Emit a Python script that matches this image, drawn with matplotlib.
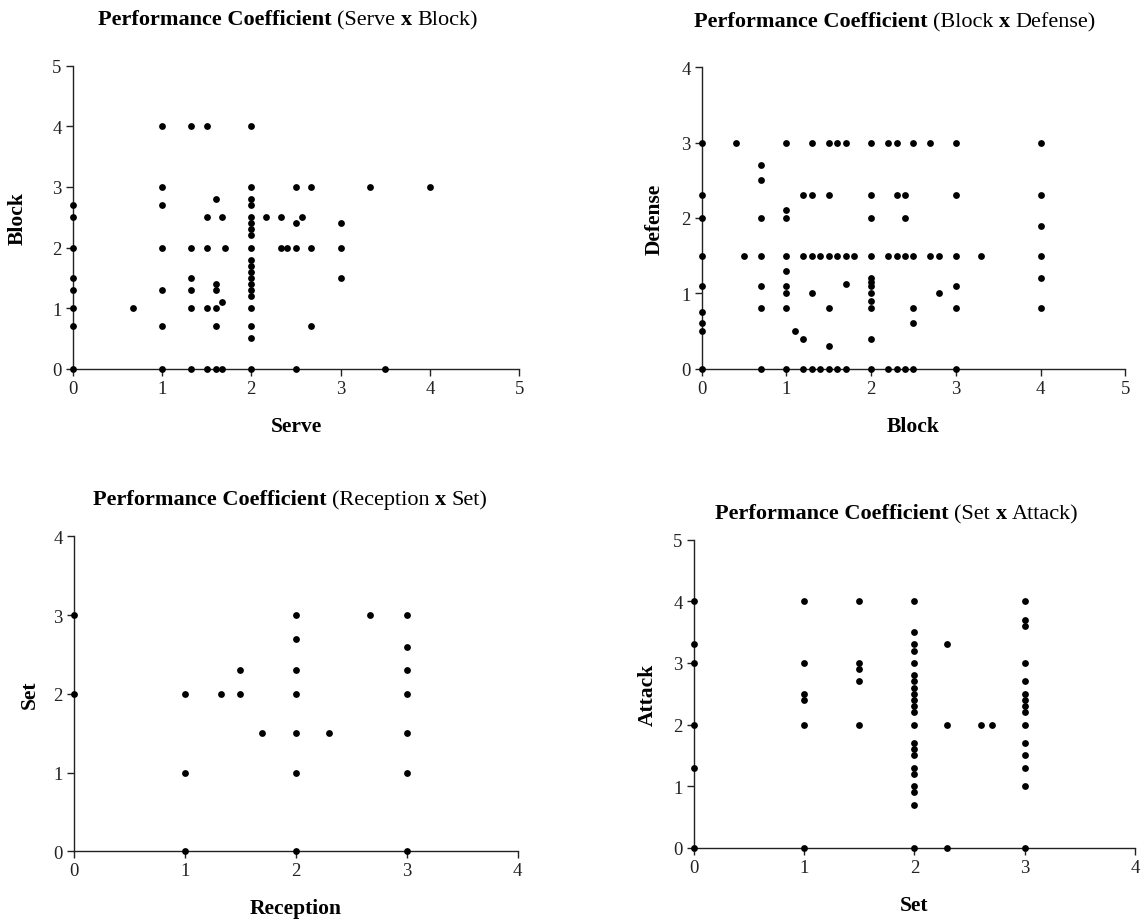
import matplotlib
matplotlib.use("Agg")
import matplotlib.pyplot as plt

plt.rcParams["font.family"] = "serif"
plt.rcParams["font.serif"] = ["Liberation Serif", "DejaVu Serif"]

W, H = 1141, 920

# --- Serve x Block ---
serve = [0, 0, 0, 0, 0, 0, 0, 0,
         0.67,
         1, 1, 1, 1, 1, 1, 1,
         1.33, 1.33, 1.33, 1.33, 1.33, 1.33,
         1.5, 1.5, 1.5, 1.5, 1.5,
         1.6, 1.6, 1.6, 1.6, 1.6, 1.6,
         1.67, 1.67, 1.67,
         1.71,
         2, 2, 2, 2, 2, 2, 2, 2, 2, 2, 2, 2, 2, 2, 2, 2, 2, 2, 2, 2,
         2.17,
         2.33, 2.33,
         2.4,
         2.5, 2.5, 2.5, 2.5,
         2.57,
         2.67, 2.67, 2.67,
         3, 3, 3,
         3.33, 3.5, 4]
block_serve = [2.7, 2.5, 2.0, 1.5, 1.3, 1.0, 0.7, 0,
               1.0,
               4, 3, 2.7, 2, 1.3, 0.7, 0,
               4, 2, 1.5, 1.3, 1, 0,
               4, 2.5, 2, 1, 0,
               2.8, 1.4, 1.3, 1, 0.7, 0,
               2.5, 1.1, 0,
               2.0,
               4, 3, 2.8, 2.7, 2.5, 2.4, 2.3, 2.2, 2, 1.8, 1.7, 1.6, 1.5, 1.4, 1.3, 1.2, 1, 0.7, 0.5, 0,
               2.5,
               2.5, 2,
               2,
               3, 2.4, 2, 0,
               2.5,
               3, 2, 0.7,
               2.4, 2, 1.5,
               3, 0, 3]

# --- Block x Defense ---
block = [0, 0, 0, 0, 0, 0, 0, 0, 0,
         0.4, 0.5,
         0.7, 0.7, 0.7, 0.7, 0.7, 0.7, 0.7,
         1, 1, 1, 1, 1, 1, 1, 1, 1,
         1.1,
         1.2, 1.2, 1.2, 1.2,
         1.3, 1.3, 1.3, 1.3, 1.3,
         1.4, 1.4,
         1.5, 1.5, 1.5, 1.5, 1.5, 1.5,
         1.6, 1.6, 1.6,
         1.7, 1.7, 1.7, 1.7,
         1.8,
         2, 2, 2, 2, 2, 2, 2, 2, 2, 2, 2, 2,
         2.2, 2.2, 2.2,
         2.3, 2.3, 2.3, 2.3,
         2.4, 2.4, 2.4, 2.4,
         2.5, 2.5, 2.5, 2.5, 2.5,
         2.7, 2.7,
         2.8, 2.8,
         3, 3, 3, 3, 3, 3,
         3.3,
         4, 4, 4, 4, 4, 4]
defense = [3, 2.3, 2, 1.5, 1.1, 0.75, 0.6, 0.5, 0,
           3, 1.5,
           2.7, 2.5, 2, 1.5, 1.1, 0.8, 0,
           3, 2.1, 2.0, 1.5, 1.3, 1.1, 1.0, 0.8, 0,
           0.5,
           2.3, 1.5, 0.4, 0,
           3, 2.3, 1.5, 1.0, 0,
           1.5, 0,
           3, 2.3, 1.5, 0.8, 0.3, 0,
           3, 1.5, 0,
           3, 1.5, 1.12, 0,
           1.5,
           3, 2.3, 2.0, 1.5, 1.2, 1.15, 1.1, 1.0, 0.9, 0.8, 0.4, 0,
           3, 1.5, 0,
           3, 2.3, 1.5, 0,
           2.3, 2.0, 1.5, 0,
           3, 1.5, 0.8, 0.6, 0,
           3, 1.5,
           1.5, 1.0,
           3, 2.3, 1.5, 1.1, 0.8, 0,
           1.5,
           3, 2.3, 1.9, 1.5, 1.2, 0.8]

# --- Reception x Set ---
reception = [0, 0,
             1, 1, 1,
             1.33,
             1.5, 1.5,
             1.7,
             2, 2, 2, 2, 2, 2, 2,
             2.3,
             2.67,
             3, 3, 3, 3, 3, 3, 3]
set_rec = [3, 2,
           2, 1, 0,
           2,
           2.3, 2,
           1.5,
           3, 2.7, 2.3, 2, 1.5, 1, 0,
           1.5,
           3,
           3, 2.6, 2.3, 2, 1.5, 1, 0]

# --- Set x Attack ---
set_att = [0, 0, 0, 0, 0, 0,
           1, 1, 1, 1, 1, 1,
           1.5, 1.5, 1.5, 1.5, 1.5,
           2, 2, 2, 2, 2, 2, 2, 2, 2, 2, 2, 2, 2, 2, 2, 2, 2, 2, 2, 2, 2, 2,
           2.3, 2.3, 2.3,
           2.6, 2.7,
           3, 3, 3, 3, 3, 3, 3, 3, 3, 3, 3, 3, 3, 3, 3]
attack = [4, 3.3, 3, 2, 1.3, 0,
          4, 3, 2.5, 2.4, 2, 0,
          4, 3, 2.9, 2.7, 2,
          4, 3.5, 3.3, 3.2, 3, 2.8, 2.7, 2.6, 2.5, 2.4, 2.3, 2.2, 2, 1.7, 1.6, 1.5, 1.3, 1.2, 1.0, 0.9, 0.7, 0,
          3.3, 2, 0,
          2, 2,
          4, 3.7, 3.6, 3, 2.7, 2.5, 2.4, 2.3, 2.2, 2, 1.7, 1.5, 1.3, 1, 0]


fig = plt.figure(figsize=(W / 100, H / 100), dpi=100)


def rect(x0, x1, ytop, ybot):
    return [x0 / W, 1 - ybot / H, (x1 - x0) / W, (ybot - ytop) / H]


def panel(box, x, y, xmax, ymax, xlabel, ylabel, ylab_x):
    ax = fig.add_axes(rect(*box))
    ax.scatter(x, y, s=24, c="black", linewidths=0, clip_on=False, zorder=3)
    ax.set_xlim(0, xmax)
    ax.set_ylim(0, ymax)
    ax.set_xticks(range(xmax + 1))
    ax.set_yticks(range(ymax + 1))
    for s in ("top", "right"):
        ax.spines[s].set_visible(False)
    for s in ("left", "bottom"):
        ax.spines[s].set_linewidth(1.0)
        ax.spines[s].set_color("#222222")
    ax.tick_params(direction="out", length=5, width=1, color="#222222",
                   labelcolor="#222222", labelsize=13.5, pad=3)
    hpx = box[3] - box[2]
    wpx = box[1] - box[0]
    ax.set_xlabel(xlabel, fontweight="bold", fontsize=15.5)
    ax.xaxis.label.set_verticalalignment("center")
    ax.xaxis.set_label_coords(0.5, -57 / hpx)
    ax.set_ylabel(ylabel, fontweight="bold", fontsize=15.5)
    ax.yaxis.label.set_verticalalignment("center")
    ax.yaxis.set_label_coords((ylab_x - box[0]) / wpx, 0.5)
    return ax


def mixed_title(ax, cx, cy, a, b, size=16):
    # bold "Performance Coefficient", then "(a x b)" with only the x in bold
    gap = 0.25 * size
    segs = [("(" + a, "normal"), ("x", "bold"), (b + ")", "normal")]
    first = ax.annotate("Performance Coefficient", xy=(0, 1 - cy / H),
                        xycoords="figure fraction", va="center", ha="left",
                        fontsize=size, fontweight="bold", annotation_clip=False)
    prev = first
    for s, w in segs:
        prev = ax.annotate(s, xy=(1, 0), xycoords=prev, xytext=(gap, 0),
                           textcoords="offset points", va="bottom", ha="left",
                           fontsize=size, fontweight=w, annotation_clip=False)
    fig.canvas.draw()
    width = prev.get_window_extent().x1 - first.get_window_extent().x0
    first.set_position(((cx - width / 2) / W, 1 - cy / H))


ax1 = panel((72.7, 519.2, 66.7, 369.7), serve, block_serve, 5, 5, "Serve", "Block", 18)
ax2 = panel((701.7, 1125.2, 68.3, 369.7), block, defense, 5, 4, "Block", "Defense", 655)
ax3 = panel((73.7, 517.7, 537.3, 852.3), reception, set_rec, 4, 4, "Reception", "Set", 30)
ax4 = panel((693.7, 1135, 540.7, 848.7), set_att, attack, 4, 5, "Set", "Attack", 648)

mixed_title(ax1, 288, 20, "Serve", "Block")
mixed_title(ax2, 895, 22, "Block", "Defense")
mixed_title(ax3, 290, 500, "Reception", "Set")
mixed_title(ax4, 897, 514, "Set", "Attack")

fig.savefig("out.png", dpi=100)
